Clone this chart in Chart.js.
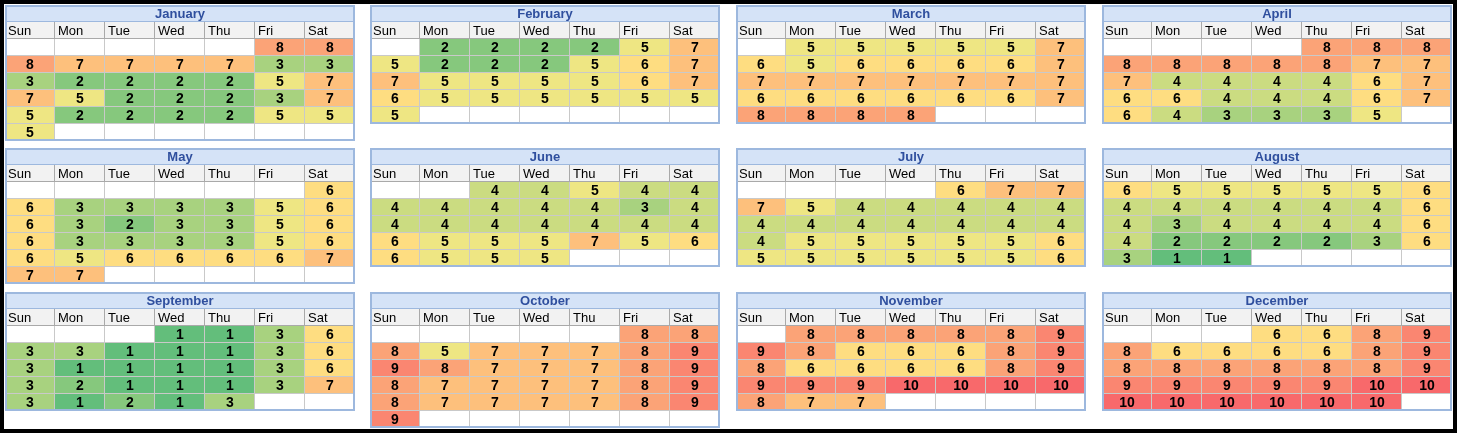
<!DOCTYPE html>
<html>
<head>
<meta charset="utf-8">
<script src="https://cdn.jsdelivr.net/npm/chart.js@4.4.1/dist/chart.umd.min.js"></script>
<style>
html, body { margin: 0; padding: 0; background: #000; width: 1457px; height: 433px; overflow: hidden; }
#page { position: absolute; left: 4px; top: 4px; width: 1449px; height: 425px; background: #fff; }
.cal { position: absolute; width: 350px; height: 136px; }
</style>
</head>
<body>
<div id="page"></div>
<script>
// calendar values, one row per week (null = no day)
const monthNames = ['January','February','March','April','May','June','July','August','September','October','November','December'];
const weekdays = ['Sun','Mon','Tue','Wed','Thu','Fri','Sat'];
const _ = null;

const jan = [[_,_,_,_,_,8,8],[8,7,7,7,7,3,3],[3,2,2,2,2,5,7],[7,5,2,2,2,3,7],[5,2,2,2,2,5,5],[5,_,_,_,_,_,_]];
const feb = [[_,2,2,2,2,5,7],[5,2,2,2,5,6,7],[7,5,5,5,5,6,7],[6,5,5,5,5,5,5],[5,_,_,_,_,_,_]];
const mar = [[_,5,5,5,5,5,7],[6,5,6,6,6,6,7],[7,7,7,7,7,7,7],[6,6,6,6,6,6,7],[8,8,8,8,_,_,_]];
const apr = [[_,_,_,_,8,8,8],[8,8,8,8,8,7,7],[7,4,4,4,4,6,7],[6,6,4,4,4,6,7],[6,4,3,3,3,5,_]];
const may = [[_,_,_,_,_,_,6],[6,3,3,3,3,5,6],[6,3,2,3,3,5,6],[6,3,3,3,3,5,6],[6,5,6,6,6,6,7],[7,7,_,_,_,_,_]];
const jun = [[_,_,4,4,5,4,4],[4,4,4,4,4,3,4],[4,4,4,4,4,4,4],[6,5,5,5,7,5,6],[6,5,5,5,_,_,_]];
const jul = [[_,_,_,_,6,7,7],[7,5,4,4,4,4,4],[4,4,4,4,4,4,4],[4,5,5,5,5,5,6],[5,5,5,5,5,5,6]];
const aug = [[6,5,5,5,5,5,6],[4,4,4,4,4,4,6],[4,3,4,4,4,4,6],[4,2,2,2,2,3,6],[3,1,1,_,_,_,_]];
const sep = [[_,_,_,1,1,3,6],[3,3,1,1,1,3,6],[3,1,1,1,1,3,6],[3,2,1,1,1,3,7],[3,1,2,1,3,_,_]];
const oct = [[_,_,_,_,_,8,8],[8,5,7,7,7,8,9],[9,8,7,7,7,8,9],[8,7,7,7,7,8,9],[8,7,7,7,7,8,9],[9,_,_,_,_,_,_]];
const nov = [[_,8,8,8,8,8,9],[9,8,6,6,6,8,9],[8,6,6,6,6,8,9],[9,9,9,10,10,10,10],[8,7,7,_,_,_,_]];
const dec = [[_,_,_,6,6,8,9],[8,6,6,6,6,8,9],[8,8,8,8,8,8,9],[9,9,9,9,9,10,10],[10,10,10,10,10,10,_]];
const monthValues = [jan, feb, mar, apr, may, jun, jul, aug, sep, oct, nov, dec];

// green - yellow - red scale
const scaleColors = {1:'#63BE7B',2:'#86C87D',3:'#A8D27F',4:'#CBDC81',5:'#EEE683',6:'#FEDD81',7:'#FDC07C',8:'#FBA377',9:'#FA8671',10:'#F8696B'};

const rowLabels = ['title','head','w1','w2','w3','w4','w5','w6'];
const panelLeft = [5, 370, 736, 1102];
const panelTop = [5, 148, 292];
const FONT = '"Liberation Sans", Arial, sans-serif';

const textPlugin = {
  id: 'cellText',
  afterDatasetsDraw(chart) {
    const c = chart.ctx;
    const ds = chart.data.datasets[0];
    chart.getDatasetMeta(0).data.forEach((bar, i) => {
      const d = ds.data[i];
      const p = bar.getProps(['x', 'y', 'base'], true);
      const l = Math.min(p.x, p.base), r = Math.max(p.x, p.base);
      c.save();
      c.textBaseline = 'middle';
      if (d.kind === 'title') {
        c.font = 'bold 13px ' + FONT;
        c.fillStyle = '#2F4F9E';
        c.textAlign = 'center';
        c.fillText(d.t, (l + r) / 2, p.y + 1);
      } else if (d.kind === 'head') {
        c.font = '13px ' + FONT;
        c.fillStyle = '#000';
        c.textAlign = 'left';
        c.fillText(d.t, l + 3, p.y + 1);
      } else if (d.v !== null) {
        c.font = 'bold 14px ' + FONT;
        c.fillStyle = '#000';
        c.textAlign = 'center';
        c.fillText(String(d.v), (l + r) / 2, p.y + 1);
      }
      c.restore();
    });
  },
  afterDraw(chart) {
    const x = chart.scales.x, y = chart.scales.y;
    const band = y.getPixelForValue(1) - y.getPixelForValue(0);
    const weeks = chart.options.plugins.cellText.weeks;
    const top = y.getPixelForValue(0) - band / 2;
    const bottom = y.getPixelForValue(1 + weeks) + band / 2;
    const c = chart.ctx;
    c.save();
    c.strokeStyle = '#9DB8DE';
    c.lineWidth = 2;
    c.strokeRect(x.getPixelForValue(0) + 1, top + 1, x.getPixelForValue(7) - x.getPixelForValue(0) - 2, bottom - top - 2);
    c.restore();
  }
};

monthValues.forEach((weeks, m) => {
  const div = document.createElement('div');
  div.className = 'cal';
  div.style.left = panelLeft[m % 4] + 'px';
  div.style.top = panelTop[Math.floor(m / 4)] + 'px';
  const canvas = document.createElement('canvas');
  canvas.width = 350;
  canvas.height = 136;
  div.appendChild(canvas);
  document.body.appendChild(div);

  const cells = [{x: [0, 7], y: 'title', kind: 'title', t: monthNames[m]}];
  weekdays.forEach((w, i) => cells.push({x: [i, i + 1], y: 'head', kind: 'head', t: w}));
  weeks.forEach((row, k) => {
    row.forEach((v, i) => cells.push({x: [i, i + 1], y: 'w' + (k + 1), kind: 'cell', v: v}));
  });

  new Chart(canvas, {
    type: 'bar',
    data: {
      labels: rowLabels,
      datasets: [{
        data: cells,
        backgroundColor: ctx => {
          const d = ctx.raw;
          if (!d) return '#fff';
          if (d.kind === 'title') return '#D5E3F7';
          if (d.kind === 'head') return '#F2F2F2';
          return d.v === null ? '#FFFFFF' : scaleColors[d.v];
        },
        borderColor: ctx => {
          const d = ctx.raw;
          if (d && d.kind === 'title') return '#9DB8DE';
          if (d && d.kind === 'head') return '#A9A9A9';
          return '#C9C9C9';
        },
        borderWidth: ctx => {
          const d = ctx.raw;
          if (d && d.kind === 'title') return {top: 0, left: 0, right: 0, bottom: 1};
          return {top: 0, left: 0, right: 1, bottom: 1};
        },
        borderSkipped: false,
        inflateAmount: 0,
        barPercentage: 1,
        categoryPercentage: 1
      }]
    },
    options: {
      indexAxis: 'y',
      responsive: false,
      animation: false,
      devicePixelRatio: 1,
      layout: {padding: 0},
      events: [],
      scales: {
        x: {type: 'linear', min: 0, max: 7, display: false},
        y: {type: 'category', display: false}
      },
      plugins: {
        legend: {display: false},
        tooltip: {enabled: false},
        cellText: {weeks: weeks.length}
      }
    },
    plugins: [textPlugin]
  });
});
</script>
</body>
</html>
